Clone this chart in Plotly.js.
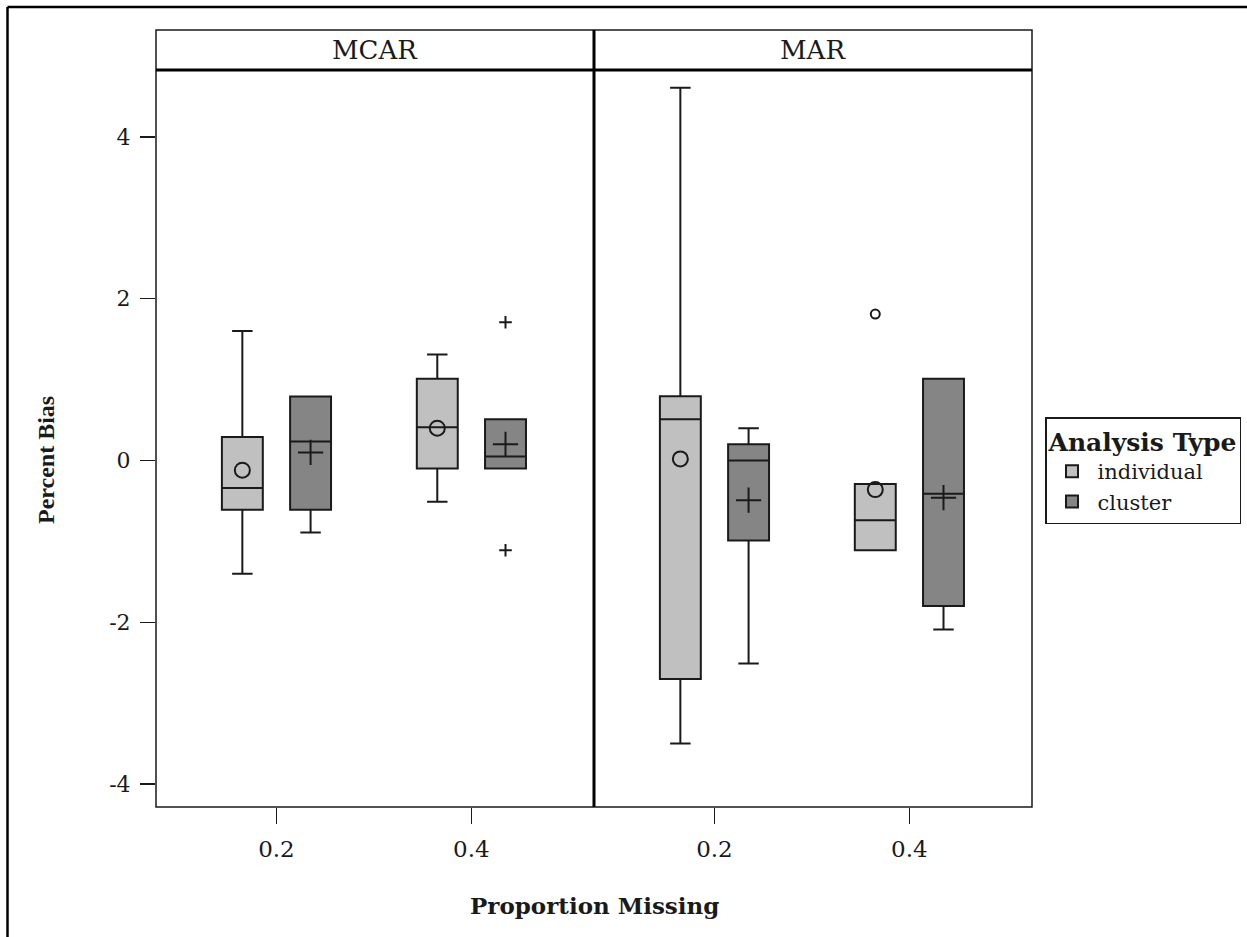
<!DOCTYPE html>
<html><head><meta charset="utf-8">
<script src="https://cdn.plot.ly/plotly-3.0.1.min.js"></script>
<style>html,body{margin:0;padding:0;background:#fff}</style>
</head><body><div id="chart" style="width:1247px;height:937px"></div>
<script>
// ---- data ----
const proportions = [0.2, 0.4];
const xTickLabels = ['0.2', '0.4'];
const yTickValues = [-4, -2, 0, 2, 4];
const yTickLabels = ['-4', '-2', '0', '2', '4'];
const panelNames = ['MCAR', 'MAR'];
const groupNames = ['individual', 'cluster'];

// MCAR, individual
const mcarIndLower = [-1.40, -0.51];
const mcarIndQ1 = [-0.61, -0.10];
const mcarIndMedian = [-0.34, 0.41];
const mcarIndQ3 = [0.29, 1.01];
const mcarIndUpper = [1.60, 1.31];
const mcarIndMean = [-0.12, 0.40];
const mcarIndOutX = [];
const mcarIndOutY = [];
// MCAR, cluster
const mcarCluLower = [-0.89, -0.10];
const mcarCluQ1 = [-0.61, -0.10];
const mcarCluMedian = [0.235, 0.05];
const mcarCluQ3 = [0.79, 0.51];
const mcarCluUpper = [0.79, 0.51];
const mcarCluMean = [0.10, 0.20];
const mcarCluOutX = [0.4, 0.4];
const mcarCluOutY = [1.71, -1.11];
// MAR, individual
const marIndLower = [-3.50, -1.11];
const marIndQ1 = [-2.70, -1.11];
const marIndMedian = [0.51, -0.74];
const marIndQ3 = [0.795, -0.29];
const marIndUpper = [4.61, -0.29];
const marIndMean = [0.02, -0.36];
const marIndOutX = [0.4];
const marIndOutY = [1.81];
// MAR, cluster
const marCluLower = [-2.51, -2.09];
const marCluQ1 = [-0.99, -1.80];
const marCluMedian = [0.00, -0.41];
const marCluQ3 = [0.20, 1.01];
const marCluUpper = [0.40, 1.01];
const marCluMean = [-0.49, -0.46];
const marCluOutX = [];
const marCluOutY = [];

// ---- styles ----
const FONT = 'DejaVu Serif, serif';
const FONT_NARROW = 'Liberation Serif, Times New Roman, serif';
const INK = '#1a1a1a';
const fills = ['#c0c0c0', '#858585'];
const meanSymbols = ['circle-open', 'cross-thin-open'];
const meanSizes = [15, 18];
const outSizes = [9, 9];
const boxGap = 0.30, boxGroupGap = 0.40;

// offset of a group's box centre, same rule Plotly uses for grouped boxes
const dPos0 = (proportions[1] - proportions[0]) / 2;
function groupOffset(k, n) { return 2 * dPos0 * (-0.5 + (k + 0.5) / n) * (1 - boxGap); }

const panelData = [
  [
    {lower: mcarIndLower, q1: mcarIndQ1, med: mcarIndMedian, q3: mcarIndQ3, upper: mcarIndUpper, mean: mcarIndMean, ox: mcarIndOutX, oy: mcarIndOutY},
    {lower: mcarCluLower, q1: mcarCluQ1, med: mcarCluMedian, q3: mcarCluQ3, upper: mcarCluUpper, mean: mcarCluMean, ox: mcarCluOutX, oy: mcarCluOutY}
  ],
  [
    {lower: marIndLower, q1: marIndQ1, med: marIndMedian, q3: marIndQ3, upper: marIndUpper, mean: marIndMean, ox: marIndOutX, oy: marIndOutY},
    {lower: marCluLower, q1: marCluQ1, med: marCluMedian, q3: marCluQ3, upper: marCluUpper, mean: marCluMean, ox: marCluOutX, oy: marCluOutY}
  ]
];

const traces = [];
panelData.forEach((groups, p) => {
  const xa = p === 0 ? 'x' : 'x2';
  const ya = p === 0 ? 'y' : 'y2';
  groups.forEach((g, k) => {
    traces.push({
      type: 'box', name: groupNames[k], legendgroup: groupNames[k], showlegend: p === 0,
      xaxis: xa, yaxis: ya, x: proportions,
      q1: g.q1, median: g.med, q3: g.q3, lowerfence: g.lower, upperfence: g.upper,
      boxpoints: false, offsetgroup: groupNames[k], alignmentgroup: 'a' + p,
      fillcolor: fills[k], line: {color: INK, width: 2}, whiskerwidth: 0.5,
      hoverinfo: 'skip'
    });
    const off = groupOffset(k, groups.length);
    traces.push({
      type: 'scatter', mode: 'markers', showlegend: false, xaxis: xa, yaxis: ya,
      x: proportions.map(v => v + off), y: g.mean,
      marker: {symbol: meanSymbols[k], size: meanSizes[k], color: INK, line: {color: INK, width: 2}},
      hoverinfo: 'skip'
    });
    if (g.ox.length) {
      traces.push({
        type: 'scatter', mode: 'markers', showlegend: false, xaxis: xa, yaxis: ya,
        x: g.ox.map(v => v + off), y: g.oy,
        marker: {symbol: meanSymbols[k], size: outSizes[k], color: INK, line: {color: INK, width: 2}},
        hoverinfo: 'skip'
      });
    }
  });
});

// plot-area geometry in pixels
const W = 1247, H = 937, ML = 156, MR = 215, MT = 70, MB = 130;
const PW = W - ML - MR, PH = H - MT - MB;
const px = v => (v - ML) / PW;          // page x -> paper
const py = v => (H - MB - v) / PH;      // page y -> paper
const stripTop = py(30);

const xCommon = {
  range: [0.0764, 0.5258], tickvals: proportions, ticktext: xTickLabels,
  ticks: 'outside', ticklen: 16, tickwidth: 1.5, tickcolor: INK,
  showgrid: false, zeroline: false, showline: false, fixedrange: true, automargin: false,
  tickfont: {family: FONT, size: 23, color: INK}, ticklabelstandoff: 5
};

const layout = {
  width: W, height: H,
  margin: {l: ML, r: MR, t: MT, b: MB, pad: 0, autoexpand: false},
  paper_bgcolor: '#ffffff', plot_bgcolor: '#ffffff',
  boxmode: 'group', boxgap: boxGap, boxgroupgap: boxGroupGap,
  showlegend: true,
  font: {family: FONT, color: INK},
  xaxis: Object.assign({domain: [0, 0.5], anchor: 'y'}, xCommon),
  xaxis2: Object.assign({domain: [0.5, 1], anchor: 'y2'}, xCommon),
  yaxis: {
    domain: [0, 1], anchor: 'x', range: [-4.284, 4.828],
    tickvals: yTickValues, ticktext: yTickLabels,
    ticks: 'outside', ticklen: 15, tickwidth: 1.5, tickcolor: INK,
    showgrid: false, zeroline: false, showline: false, fixedrange: true, automargin: false,
    tickfont: {family: FONT, size: 22, color: INK}, ticklabelstandoff: 5
  },
  yaxis2: {
    domain: [0, 1], anchor: 'x2', matches: 'y', range: [-4.284, 4.828],
    showticklabels: false, ticks: '', showgrid: false, zeroline: false, showline: false, fixedrange: true
  },
  legend: {
    x: px(1045), y: py(417), xanchor: 'left', yanchor: 'top',
    bgcolor: '#ffffff', bordercolor: INK, borderwidth: 1.5,
    title: {text: '<b>Analysis Type</b>', font: {family: FONT, size: 25, color: INK}},
    font: {family: FONT, size: 21, color: INK},
    tracegroupgap: 0, itemwidth: 41
  },
  shapes: [
    // outer figure border (left + top)
    {type: 'line', xref: 'paper', yref: 'paper', x0: px(7.5), x1: px(W + 5), y0: py(7), y1: py(7), line: {color: '#000', width: 2.5}},
    {type: 'line', xref: 'paper', yref: 'paper', x0: px(7.5), x1: px(7.5), y0: py(7), y1: py(H + 5), line: {color: '#000', width: 2.5}},
    // plot frame with strips
    {type: 'rect', xref: 'paper', yref: 'paper', x0: 0, x1: 1, y0: 0, y1: stripTop, line: {color: INK, width: 1.5}},
    // strip bottom (thick)
    {type: 'line', xref: 'paper', yref: 'paper', x0: 0, x1: 1, y0: 1, y1: 1, line: {color: '#000', width: 3}},
    // panel divider (thick)
    {type: 'line', xref: 'paper', yref: 'paper', x0: 0.5, x1: 0.5, y0: 0, y1: stripTop, line: {color: '#000', width: 3}}
  ],
  annotations: [
    {xref: 'paper', yref: 'paper', x: 0.25, y: (1 + stripTop) / 2, text: panelNames[0], showarrow: false,
     xanchor: 'center', yanchor: 'middle', font: {family: FONT, size: 26, color: INK}},
    {xref: 'paper', yref: 'paper', x: 0.75, y: (1 + stripTop) / 2, text: panelNames[1], showarrow: false,
     xanchor: 'center', yanchor: 'middle', font: {family: FONT, size: 26, color: INK}},
    {xref: 'paper', yref: 'paper', x: 0.5, y: py(905), text: '<b>Proportion Missing</b>', showarrow: false,
     xanchor: 'center', yanchor: 'middle', font: {family: FONT, size: 23, color: INK}},
    {xref: 'paper', yref: 'paper', x: px(46), y: py(460), text: '<b>Percent Bias</b>', showarrow: false, textangle: -90,
     xanchor: 'center', yanchor: 'middle', font: {family: FONT_NARROW, size: 24, color: INK}}
  ]
};

Plotly.newPlot('chart', traces, layout, {displayModeBar: false, staticPlot: true});
</script>
</body></html>
